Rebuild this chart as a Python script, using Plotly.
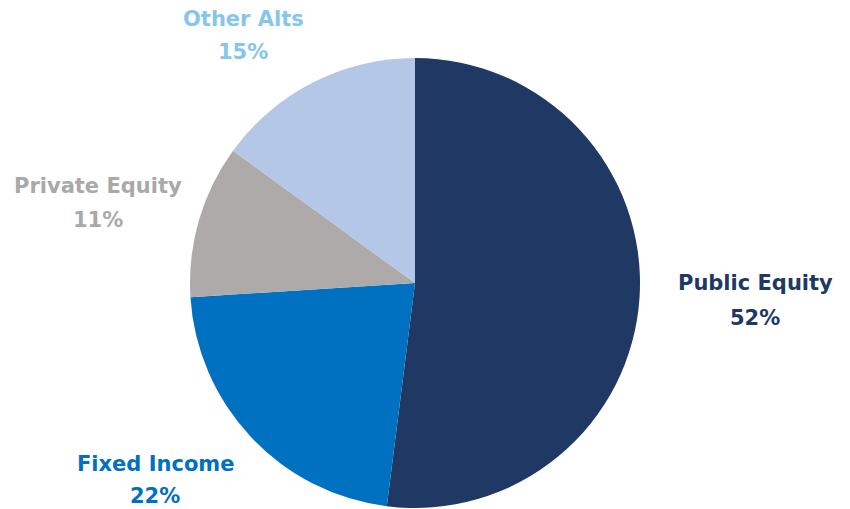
import plotly.graph_objects as go

categories = ["Public Equity", "Fixed Income", "Private Equity", "Other Alts"]
values = [52, 22, 11, 15]
slice_colors = ["#203864", "#0070c0", "#aeaaaa", "#b4c7e7"]
label_colors = ["#203864", "#0070c0", "#a9a9a9", "#85c6ea"]

W, H = 850, 509
cx, cy, r = 415, 283, 225

fig = go.Figure(go.Pie(
    labels=categories,
    values=values,
    sort=False,
    direction="clockwise",
    rotation=0,
    marker=dict(colors=slice_colors, line=dict(color="white", width=0)),
    textinfo="none",
    hoverinfo="label+percent",
    showlegend=False,
    domain=dict(x=[(cx - r) / W, (cx + r) / W], y=[1 - (cy + r) / H, 1 - (cy - r) / H]),
))

# label line centres (pixels): (x, y of name line, y of percent line)
label_pos = [(755, 283, 318), (155, 464, 496), (98, 186, 220), (243, 19, 52)]
for cat, v, col, (px, py1, py2) in zip(categories, values, label_colors, label_pos):
    for txt, py in ((cat, py1), (f"{v}%", py2)):
        fig.add_annotation(
            x=px / W, y=1 - py / H, xref="paper", yref="paper",
            text=f"<b>{txt}</b>", showarrow=False,
            font=dict(family="DejaVu Sans", size=21, color=col),
            align="center", xanchor="center", yanchor="middle",
        )

fig.update_layout(
    width=W, height=H,
    margin=dict(l=0, r=0, t=0, b=0),
    paper_bgcolor="white", plot_bgcolor="white",
)
fig.write_html("out.html")
